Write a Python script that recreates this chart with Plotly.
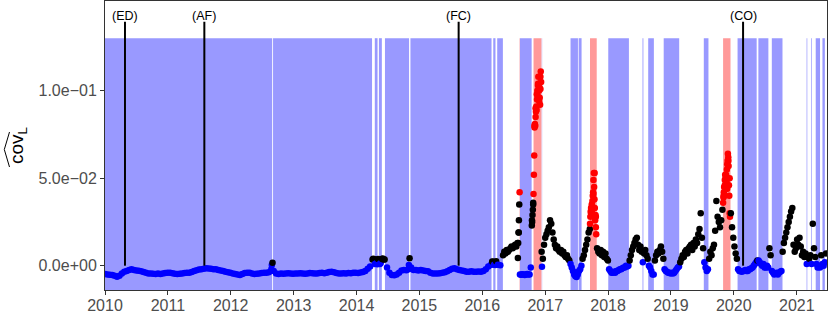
import pandas as pd
import plotly.graph_objects as go

# ---------------- data ----------------
# fortnightly values, 2010-01-01 .. 2016-04-15
seg_a_start = "2010-01-01"
seg_a_step = 14
seg_a_cov = [
    -0.0047, -0.0050, -0.0052, -0.0053, -0.0058, -0.0063, -0.0058, -0.0045, -0.0035, -0.0030,
    -0.0024, -0.0021, -0.0024, -0.0028, -0.0029, -0.0032, -0.0036, -0.0040, -0.0044, -0.0044,
    -0.0046, -0.0047, -0.0045, -0.0047, -0.0044, -0.0042, -0.0040, -0.0040, -0.0043, -0.0046,
    -0.0047, -0.0046, -0.0044, -0.0042, -0.0040, -0.0040, -0.0036, -0.0030, -0.0026, -0.0022,
    -0.0020, -0.0017, -0.0015, -0.0016, -0.0018, -0.0020, -0.0021, -0.0024, -0.0027, -0.0030,
    -0.0034, -0.0037, -0.0041, -0.0044, -0.0048, -0.0051, -0.0053, -0.0048, -0.0042, -0.0040,
    -0.0041, -0.0044, -0.0047, -0.0046, -0.0045, -0.0042, -0.0040, -0.0041, -0.0038, -0.0020,
    -0.0030, -0.0045, -0.0047, -0.0044, -0.0046, -0.0045, -0.0043, -0.0044, -0.0046, -0.0045,
    -0.0044, -0.0043, -0.0045, -0.0046, -0.0044, -0.0042, -0.0043, -0.0045, -0.0044, -0.0042,
    -0.0041, -0.0043, -0.0040, -0.0036, -0.0034, -0.0038, -0.0042, -0.0044, -0.0045, -0.0043,
    -0.0044, -0.0042, -0.0043, -0.0041, -0.0040, -0.0042, -0.0039, -0.0036, -0.0030, -0.0018,
    -0.0005, 0.0035, 0.0010, 0.0008, 0.0010, 0.0038, 0.0035, -0.0010, -0.0040, -0.0053,
    -0.0054, -0.0050, -0.0040, -0.0027, -0.0024, -0.0026, -0.0020, -0.0010, -0.0024, -0.0025,
    -0.0027, -0.0025, -0.0028, -0.0030, -0.0032, -0.0040, -0.0044, -0.0045, -0.0044, -0.0043,
    -0.0040, -0.0038, -0.0032, -0.0025, -0.0018, -0.0015, -0.0020, -0.0025, -0.0028, -0.0031,
    -0.0034, -0.0034, -0.0032, -0.0034, -0.0035, -0.0033, -0.0034, -0.0030, -0.0020, -0.0005,
    0.0004, 0.0023, 0.0004, 0.0006, 0.0002,
]

# weekly values, 2016-05-01 .. 2021-06-20
seg_b_start = "2016-05-01"
seg_b_step = 7
seg_b_cov = [
    0.006, 0.008, 0.007, 0.009, 0.008, 0.009, 0.010, 0.011, 0.010, 0.011, 0.012, 0.011, 0.013,
    0.019,
    -0.0050, -0.0052, -0.0049, -0.0051, -0.0053, -0.0050, -0.0048, -0.0051, -0.0050,
    -0.0010,
    0.026, 0.035,
    0.080, 0.090, 0.098, 0.104, 0.094, 0.108,
    0.008, 0.004, 0.012, 0.016,
    0.018, 0.020, 0.022, 0.026, 0.024, 0.019, 0.015,
    0.012, 0.010, 0.011, 0.009, 0.008, 0.009, 0.007, 0.008, 0.006, 0.005, 0.006, 0.004, 0.003, 0.001,
    -0.001, -0.003, -0.005, -0.006, -0.0065, -0.005, -0.003, -0.002, 0.000,
    0.004, 0.006, 0.009, 0.012, 0.015, 0.019, 0.021,
    0.030, 0.034, 0.041, 0.053, 0.028,
    0.010, 0.008, 0.007, 0.009, 0.006, 0.008, 0.005, 0.007, 0.004, 0.003,
    -0.002, -0.003, -0.004, -0.004, -0.0035, -0.004, -0.003, -0.003, -0.0025, -0.002, -0.002,
    -0.0015, -0.001, -0.001, 0.000, -0.0005, 0.000,
    0.003, 0.006, 0.009, 0.011, 0.013, 0.015, 0.016, 0.012, 0.009, 0.011, 0.008,
    0.002,
    0.007, 0.009, 0.006, 0.004,
    0.000, -0.001, -0.003, -0.005, -0.005,
    0.003, 0.006, 0.008, 0.007, 0.009, 0.011, 0.008, 0.004,
    -0.002, -0.003, -0.0035, -0.004, -0.004, -0.0045, -0.004, -0.0045, -0.004, -0.003, -0.002,
    -0.001, -0.0005,
    0.002, 0.004, 0.006, 0.005, 0.008, 0.009, 0.007, 0.010, 0.011, 0.012, 0.009, 0.013, 0.011,
    0.015, 0.013, 0.018, 0.021, 0.030, 0.016, 0.010,
    0.002, -0.001, -0.003, -0.002,
    0.004, 0.008, 0.006, 0.010, 0.012, 0.020, 0.037, 0.028, 0.025, 0.022, 0.026, 0.032,
    0.040, 0.046, 0.052, 0.044, 0.060, 0.050,
    0.030, 0.022, 0.016, 0.011, 0.007, 0.004,
    -0.002, -0.003, -0.003, -0.0035, -0.003, -0.003, -0.0025, -0.003, -0.003, -0.002, -0.002,
    -0.0015, -0.001, 0.000, 0.001, 0.002,
    0.003,
    0.003, 0.002, 0.001, 0.000, 0.001, -0.001, -0.001, 0.000, -0.001,
    0.010, 0.006,
    -0.003, -0.004, -0.005, -0.0045, -0.004, -0.005, -0.004, -0.0035, -0.003,
    0.008, 0.013, 0.016, 0.019, 0.022, 0.025, 0.028, 0.031, 0.033, 0.012, 0.008, 0.010, 0.015,
    0.012, 0.016, 0.011, 0.006, 0.008, 0.005, 0.007,
    0.001,
    0.005, 0.004, 0.006,
    0.001,
    0.024, 0.010, 0.005,
    0.001, -0.001, 0.000, -0.001,
    0.006,
    0.001, 0.000, 0.002,
    0.007,
]

# dense (every 2 days) stretches
chain1_start = "2016-07-26"
chain1_cov = [0.0044, 0.013, 0.019, 0.026, 0.035, 0.042]
chain2_start = "2016-10-15"
chain2_cov = [0.023, 0.025, 0.029, 0.032, 0.036]
red1_start = "2016-10-25"
red1_cov = [0.041, 0.052, 0.063, 0.079, 0.081, 0.080, 0.085, 0.088, 0.091, 0.089, 0.095, 0.100,
            0.097, 0.103, 0.108, 0.104, 0.100, 0.102, 0.096, 0.092, 0.101, 0.111, 0.105]
red2_start = "2017-09-18"
red2_cov = [0.024, 0.028, 0.031, 0.033, 0.030, 0.035, 0.032, 0.037, 0.040, 0.042, 0.049, 0.053,
            0.045, 0.038, 0.033, 0.026, 0.029, 0.022, 0.018]
red3_start = "2019-10-31"
red3_cov = [0.036, 0.039, 0.042, 0.045, 0.040, 0.049, 0.052, 0.050, 0.047, 0.044, 0.048, 0.055,
            0.058, 0.060, 0.064, 0.062, 0.057, 0.046, 0.040, 0.030, 0.028]
dense_step = 2

# isolated extra observations
extra_dates = ["2012-08-27", "2012-08-31", "2014-04-08", "2014-04-12", "2014-04-24", "2014-05-06",
               "2014-05-21", "2014-06-02", "2014-06-08", "2014-11-01", "2014-11-05", "2016-02-28",
               "2016-03-10", "2016-03-22", "2016-12-13"]
extra_cov = [0.0004, 0.0017, 0.0040, 0.0037, 0.0012, 0.0038, 0.0014, 0.0041, 0.0036, 0.0004,
             0.0042, 0.0024, 0.0005, 0.0025, -0.0006]

# regime periods (shading)
blue_start = ["2010-01-01", "2012-09-03", "2014-04-17", "2014-05-11", "2014-06-15", "2014-11-10",
              "2016-03-05", "2016-03-28", "2016-08-07", "2016-12-12", "2017-05-28", "2017-07-14",
              "2018-01-02", "2018-07-20", "2018-08-22", "2018-11-20", "2019-07-11", "2020-01-23",
              "2020-05-23", "2020-08-09", "2021-02-27", "2021-03-25", "2021-04-21", "2021-05-30"]
blue_end = ["2012-08-29", "2014-04-01", "2014-05-03", "2014-05-28", "2014-11-02", "2016-02-24",
            "2016-03-18", "2016-04-30", "2016-10-14", "2016-12-14", "2017-07-10", "2017-07-31",
            "2018-05-02", "2018-07-25", "2018-09-24", "2019-02-18", "2019-08-07", "2020-05-13",
            "2020-07-20", "2020-10-10", "2021-03-03", "2021-03-29", "2021-05-16", "2021-06-13"]
red_start = ["2016-08-04", "2016-10-25", "2017-09-18", "2019-10-31"]
red_end = ["2016-08-06", "2016-12-10", "2017-10-27", "2019-12-13"]

# events
event_dates = ["2010-04-27", "2011-08-01", "2015-08-17", "2020-02-24"]
event_labels = ["(ED)", "(AF)", "(FC)", "(CO)"]

y_ticks = [0.0, 0.05, 0.10]
y_tick_labels = ["0.0e+00", "5.0e\u221202", "1.0e\u221201"]
x_years = list(range(2010, 2022))

# ---------------- build ----------------
def seg(start, step, vals):
    d = pd.date_range(start, periods=len(vals), freq=f"{step}D")
    return pd.DataFrame({"date": d, "cov": vals})

df = pd.concat([
    seg(seg_a_start, seg_a_step, seg_a_cov),
    seg(seg_b_start, seg_b_step, seg_b_cov),
    seg(chain1_start, dense_step, chain1_cov),
    seg(chain2_start, dense_step, chain2_cov),
    seg(red1_start, dense_step, red1_cov),
    seg(red2_start, dense_step, red2_cov),
    seg(red3_start, dense_step, red3_cov),
    pd.DataFrame({"date": pd.to_datetime(extra_dates), "cov": extra_cov}),
]).sort_values("date").reset_index(drop=True)

def regime(d):
    for s, e in zip(red_start, red_end):
        if pd.Timestamp(s) <= d <= pd.Timestamp(e):
            return "#FF0000"
    for s, e in zip(blue_start, blue_end):
        if pd.Timestamp(s) <= d <= pd.Timestamp(e):
            return "#0000FF"
    return "#000000"

df["color"] = [regime(d) for d in df["date"]]

Y_MIN, Y_MAX = -0.01389, 0.15126
SHADE_TOP = 0.13
EV_TOP = 0.1394
LAB_Y = 0.1429

fig = go.Figure()
fig.add_trace(go.Scatter(
    x=df["date"], y=df["cov"], mode="markers",
    marker=dict(size=6.5, color=df["color"], line=dict(width=0)),
    hoverinfo="x+y", showlegend=False,
))

shapes = []
for s, e in zip(blue_start, blue_end):
    shapes.append(dict(type="rect", xref="x", yref="y", x0=s, x1=e, y0=Y_MIN, y1=SHADE_TOP,
                       fillcolor="#9999FF", line=dict(width=0), layer="below"))
for s, e in zip(red_start, red_end):
    shapes.append(dict(type="rect", xref="x", yref="y", x0=s, x1=e, y0=Y_MIN, y1=SHADE_TOP,
                       fillcolor="#FF9999", line=dict(width=0), layer="below"))
for d in event_dates:
    shapes.append(dict(type="line", xref="x", yref="y", x0=d, x1=d, y0=0, y1=EV_TOP,
                       line=dict(color="black", width=2)))

# hat over the axis title (paper coords; plot area 722 x 289 px)
def px(xp, yp):
    return (xp - 105) / 722.0, (290 - yp) / 289.0
a, b, c = px(9.5, 132), px(4.3, 149.5), px(9.5, 167)
shapes.append(dict(type="path", xref="paper", yref="paper",
                   path=f"M {a[0]},{a[1]} L {b[0]},{b[1]} L {c[0]},{c[1]}",
                   line=dict(color="black", width=1)))

annotations = []
for d, lab in zip(event_dates, event_labels):
    annotations.append(dict(x=d, y=LAB_Y, xref="x", yref="y", text=lab, showarrow=False,
                            font=dict(size=12.5, color="black", family="Liberation Sans, Arial"),
                            xanchor="center", yanchor="middle"))
tx, ty = px(18, 146)
annotations.append(dict(x=tx, y=ty, xref="paper", yref="paper", text="cov<sub>L</sub>",
                        showarrow=False, textangle=-90,
                        font=dict(size=19, color="black", family="Liberation Sans, Arial"),
                        xanchor="center", yanchor="middle"))

fig.update_layout(
    width=830, height=313,
    margin=dict(l=105, r=3, t=1, b=23, pad=0, autoexpand=False),
    paper_bgcolor="white", plot_bgcolor="white",
    shapes=shapes, annotations=annotations,
    font=dict(family="Liberation Sans, Arial"),
)
fig.update_xaxes(
    type="date", range=["2010-01-01", "2021-06-25 12:00"], automargin=False,
    tickmode="array", tickvals=[f"{y}-01-01" for y in x_years], ticktext=[str(y) for y in x_years],
    showgrid=False, zeroline=False,
    showline=True, mirror=True, linecolor="#333333", linewidth=1,
    ticks="outside", ticklen=4, tickcolor="#333333", tickwidth=1,
    ticklabelstandoff=-3,
    tickfont=dict(size=16, color="#4D4D4D"),
)
fig.update_yaxes(
    range=[Y_MIN, Y_MAX], automargin=False,
    tickmode="array", tickvals=y_ticks, ticktext=y_tick_labels,
    showgrid=False, zeroline=False,
    showline=True, mirror=True, linecolor="#333333", linewidth=1,
    ticks="outside", ticklen=4, tickcolor="#333333", tickwidth=1,
    tickfont=dict(size=16, color="#4D4D4D"),
)

fig.write_html("out.html", config={"displayModeBar": False},
               post_script="document.body.style.margin='0px';")
